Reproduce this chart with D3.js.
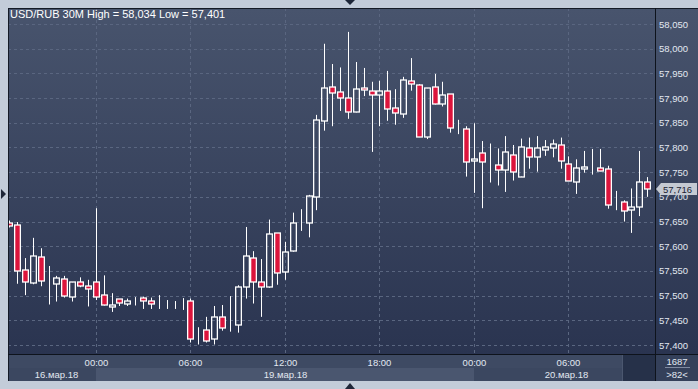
<!doctype html>
<html lang="ru">
<head>
<meta charset="UTF-8" />
<title>USD/RUB 30M</title>
<script src="https://d3js.org/d3.v7.min.js"></script>
<style>
  html, body { margin: 0; padding: 0; background: #c3ccd9; overflow: hidden; }
  svg { display: block; font-family: "Liberation Sans", Arial, sans-serif; }
  .lbl { fill: #e2e8f1; font-size: 9.5px; }
</style>
</head>
<body>
<svg id="chart" width="698" height="389"></svg>
<script>
// candle data, 30 min bars, 16.03 18:30 .. 20.03 11:00
const open = [57648,57643,57552,57526,57578,57527,57524,57534,57498,57527,57519,
  57527,57501,57476,57493,57484,57489,57495,57489,57486,57484,57482,57484,
  57489,57420,57430,57413,57456,57441,57441,57518,57576,57527,57518,57626,
  57547,57591,57648,57648,57699,57854,57922,57912,57900,57871,57920,57914,
  57906,57914,57879,57867,57934,57926,57821,57922,57889,57908,57837,57837,
  57773,57788,57769,57764,57754,57784,57741,57798,57780,57794,57798,57804,
  57766,57731,57757,57760,57758,57756,57688,57689,57674,57679,57731];
const high = [57652,57649,57576,57617,57596,57560,57540,57540,57527,57537,57532,
  57677,57541,57505,57493,57494,57497,57498,57496,57501,57491,57489,57495,
  57494,57436,57457,57479,57481,57499,57521,57639,57590,57574,57654,57626,
  57609,57668,57675,57704,57866,58010,57969,57962,58034,57973,57961,57933,
  57935,57955,57918,57943,57981,57928,57920,57949,57933,57908,57856,57843,
  57849,57813,57808,57798,57823,57805,57818,57820,57823,57815,57816,57820,
  57782,57776,57793,57797,57797,57763,57712,57693,57717,57793,57740];
const low = [57638,57524,57501,57523,57519,57482,57488,57496,57488,57517,57478,
  57491,57480,57467,57479,57479,57480,57473,57473,57473,57473,57473,57471,
  57405,57401,57405,57401,57429,57427,57425,57494,57484,57457,57516,57522,
  57532,57589,57631,57618,57673,57834,57843,57874,57858,57871,57904,57791,
  57843,57854,57846,57860,57915,57821,57817,57887,57883,57830,57827,57741,
  57708,57677,57729,57723,57710,57733,57741,57757,57751,57783,57780,57757,
  57733,57706,57749,57745,57752,57676,57673,57650,57627,57661,57700];
const close = [57641,57550,57528,57580,57529,57527,57535,57500,57527,57520,57513,
  57498,57480,57482,57486,57489,57489,57490,57484,57486,57484,57482,57484,
  57413,57420,57409,57456,57434,57441,57517,57580,57527,57518,57625,57545,
  57589,57648,57648,57702,57856,57920,57910,57900,57871,57918,57916,57906,
  57914,57878,57869,57936,57928,57821,57920,57887,57906,57839,57837,57770,
  57777,57770,57769,57754,57790,57750,57800,57780,57798,57800,57806,57772,
  57733,57758,57761,57760,57752,57683,57688,57671,57679,57731,57715];

// trading days on screen (weekend skipped)
const days = ["16.мар.18", "19.мар.18", "20.мар.18"];
const dayFirst = ["18:30", "00:00", "00:00"];
const dayLast = ["23:30", "23:30", "11:00"];
const timeTicks = ["00:00", "06:00", "12:00", "18:00", "00:00", "06:00"];
const priceTicks = [57400, 57450, 57500, 57550, 57600, 57650, 57700, 57750,
  57800, 57850, 57900, 57950, 58000, 58050];
const lastPrice = 57716;

// build category list "day|hh:mm"
function toMin(s) { const p = s.split(":"); return +p[0] * 60 + +p[1]; }
function fmt(m) { return String(Math.floor(m / 60)).padStart(2, "0") + ":" + String(m % 60).padStart(2, "0"); }
const cats = [];
days.forEach((d, k) => {
  for (let m = toMin(dayFirst[k]); m <= toMin(dayLast[k]); m += 30) cats.push({ day: d, time: fmt(m) });
});
const candles = cats.map((c, i) => ({ ...c, key: i, o: open[i], h: high[i], l: low[i], c: close[i] }));

const W = 698, H = 389;
const plot = { x0: 8, x1: 655, y0: 8, y1: 354 };
const axisBottom = 381;

const svg = d3.select("#chart");
const defs = svg.append("defs");

const grad = defs.append("linearGradient").attr("id", "bg").attr("x1", 0).attr("y1", 0).attr("x2", 0).attr("y2", 1);
grad.append("stop").attr("offset", "0%").attr("stop-color", "#48546d");
grad.append("stop").attr("offset", "100%").attr("stop-color", "#2a3450");

defs.append("clipPath").attr("id", "clip").append("rect")
  .attr("x", plot.x0 + 1).attr("y", plot.y0 + 1)
  .attr("width", plot.x1 - plot.x0 - 1).attr("height", plot.y1 - plot.y0 - 1);

const x = d3.scaleBand().domain(candles.map(d => d.key)).range([5.3, 651.1]);
const y = d3.scaleLinear().domain([57400, 58050]).range([345, 24]);
const cx = i => Math.round(x(i) + x.bandwidth() / 2) + 0.5;

// frame + backgrounds
svg.append("rect").attr("x", 0).attr("y", 0).attr("width", W).attr("height", H).attr("fill", "#c3ccd9");
svg.append("rect").attr("x", plot.x0).attr("y", plot.y0).attr("width", W - plot.x0).attr("height", axisBottom - plot.y0)
  .attr("fill", "#141a26");
svg.append("rect").attr("x", plot.x0 + 1).attr("y", plot.y0 + 1).attr("width", plot.x1 - plot.x0 - 1).attr("height", plot.y1 - plot.y0 - 1)
  .attr("fill", "url(#bg)");
svg.append("rect").attr("x", plot.x1 + 1).attr("y", plot.y0 + 1).attr("width", W - plot.x1 - 1).attr("height", plot.y1 - plot.y0 - 1)
  .attr("fill", "url(#bg)");

// bottom axis area
svg.append("rect").attr("x", plot.x0 + 1).attr("y", plot.y1 + 1).attr("width", plot.x1 - plot.x0 - 1).attr("height", axisBottom - plot.y1 - 1)
  .attr("fill", "#3e4a63");
svg.append("rect").attr("x", plot.x1 + 1).attr("y", plot.y1 + 1).attr("width", W - plot.x1 - 1).attr("height", axisBottom - plot.y1 - 1)
  .attr("fill", "#34405a");

// date row bands, split at midnight ticks
const dayIdx = days.map(d => candles.filter(c => c.day === d).map(c => c.key));
const dayFill = ["#3b4760", "#4a566f", "#3b4760"];
dayIdx.forEach((ks, k) => {
  const a = k === 0 ? plot.x0 + 1 : cx(ks[0]) - 0.5;
  const b = k === days.length - 1 ? 622 : cx(dayIdx[k + 1][0]) - 0.5;
  svg.append("rect").attr("x", a).attr("y", 368).attr("width", b - a).attr("height", axisBottom - 368).attr("fill", dayFill[k]);
});
svg.append("rect").attr("x", 622).attr("y", plot.y1 + 1).attr("width", plot.x1 - 622).attr("height", axisBottom - plot.y1 - 1)
  .attr("fill", "#263149");
svg.append("line").attr("x1", 622.5).attr("x2", 622.5).attr("y1", plot.y1 + 1).attr("y2", axisBottom)
  .attr("stroke", "#4b576f");

// grid
const g = svg.append("g").attr("clip-path", "url(#clip)");
g.selectAll("line.h").data(priceTicks).join("line")
  .attr("x1", plot.x0).attr("x2", plot.x1)
  .attr("y1", d => Math.round(y(d)) + 0.5).attr("y2", d => Math.round(y(d)) + 0.5)
  .attr("stroke", "#5a6680").attr("stroke-dasharray", "3,3");
const tickKeys = [];
candles.forEach(c => { if (c.time === "00:00" || c.time === "06:00" || c.time === "12:00" || c.time === "18:00") tickKeys.push(c.key); });
g.selectAll("line.v").data(tickKeys).join("line")
  .attr("x1", d => cx(d)).attr("x2", d => cx(d))
  .attr("y1", plot.y0).attr("y2", plot.y1)
  .attr("stroke", "#5a6680").attr("stroke-dasharray", "3,3");

// candles
const cg = g.append("g");
candles.forEach(d => {
  const top = Math.round(y(Math.max(d.o, d.c)));
  const bot = Math.round(y(Math.min(d.o, d.c)));
  const xc = cx(d.key);
  cg.append("line").attr("x1", xc).attr("x2", xc).attr("y1", y(d.h)).attr("y2", top)
    .attr("stroke", "#fff").attr("stroke-width", 1);
  cg.append("line").attr("x1", xc).attr("x2", xc).attr("y1", bot).attr("y2", y(d.l))
    .attr("stroke", "#fff").attr("stroke-width", 1);
  cg.append("rect").attr("x", xc - 2.85).attr("y", top).attr("width", 5.7).attr("height", Math.max(0, bot - top))
    .attr("fill", d.c < d.o ? "#dc143c" : "none")
    .attr("stroke", "#fff").attr("stroke-width", 1.3);
});

// separators
svg.append("line").attr("x1", plot.x1 + 0.5).attr("x2", plot.x1 + 0.5).attr("y1", plot.y0).attr("y2", axisBottom)
  .attr("stroke", "#0e131c");
svg.append("line").attr("x1", plot.x0).attr("x2", W).attr("y1", plot.y1 + 0.5).attr("y2", plot.y1 + 0.5)
  .attr("stroke", "#0e131c");

// title
svg.append("text").attr("x", 10).attr("y", 18).attr("font-size", 11).attr("fill", "#fff")
  .text("USD/RUB 30M  High = 58,034 Low = 57,401");

// right price axis
const fmtP = d3.format(",");
svg.selectAll("text.py").data(priceTicks).join("text")
  .attr("class", "lbl").attr("x", 659).attr("y", d => y(d) + 3.5)
  .text(d => fmtP(d));

// last price marker
const ly = Math.round(y(lastPrice));
svg.append("path")
  .attr("d", `M656,${ly} L661,${ly - 6} L697,${ly - 6} L697,${ly + 6} L661,${ly + 6} Z`)
  .attr("fill", "#c4c9d2");
svg.append("text").attr("x", 663).attr("y", ly + 3.5).attr("font-size", 9.5).attr("fill", "#1a2233")
  .text(fmtP(lastPrice));

// time labels
const tickLbl = tickKeys.map((k, j) => ({ k, t: timeTicks[j] }));
svg.selectAll("text.tx").data(tickLbl).join("text")
  .attr("class", "lbl").attr("text-anchor", "middle").attr("x", d => cx(d.k)).attr("y", 366)
  .text(d => d.t);

// date labels
const dayAt = [dayIdx[0][6], dayIdx[1][24], dayIdx[2][12]];
svg.selectAll("text.dx").data(days).join("text")
  .attr("class", "lbl").attr("text-anchor", "middle").attr("x", (d, k) => cx(dayAt[k]) - (k === 2 ? 2 : 0)).attr("y", 378)
  .text(d => d);

// bar counters
svg.append("text").attr("class", "lbl").attr("text-anchor", "middle").attr("x", 677).attr("y", 365).text("1687");
svg.append("line").attr("x1", 665).attr("x2", 690).attr("y1", 367.5).attr("y2", 367.5).attr("stroke", "#7f8aa0");
svg.append("text").attr("class", "lbl").attr("text-anchor", "middle").attr("x", 677).attr("y", 378).text(">" + candles.length + "<");

// little scroll arrows on the frame
svg.append("path").attr("d", "M345,0 L355,0 L350,5 Z").attr("fill", "#1e2638");
svg.append("path").attr("d", "M345,389 L355,389 L350,383 Z").attr("fill", "#1e2638");
svg.append("path").attr("d", "M1,189 L6,194 L1,199 Z").attr("fill", "#1e2638");
</script>
</body>
</html>
